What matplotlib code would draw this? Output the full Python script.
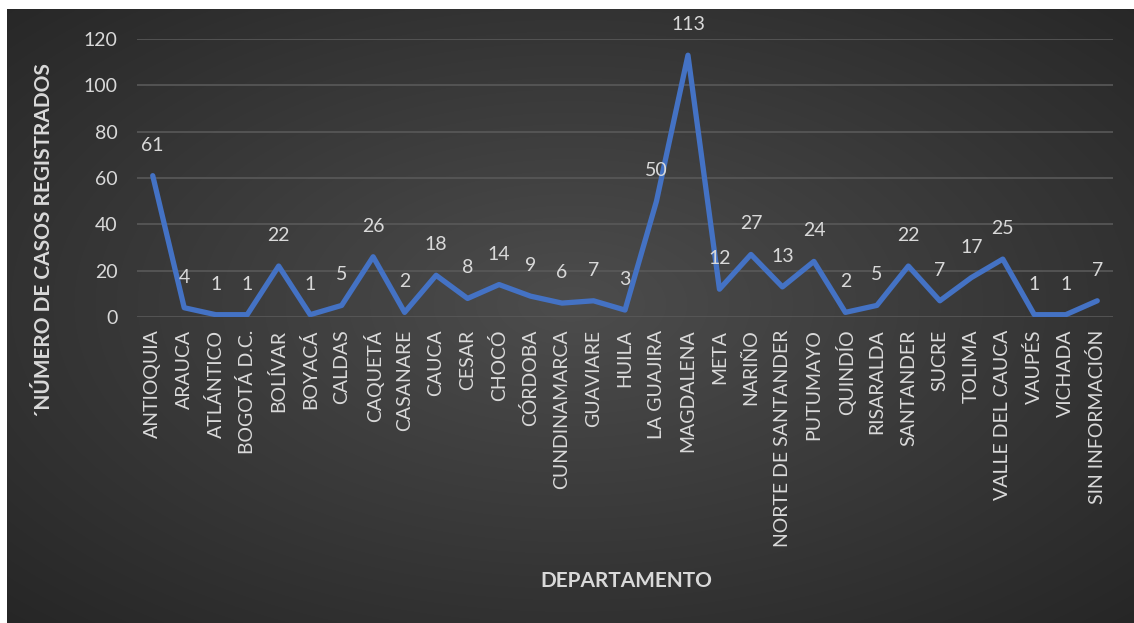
import numpy as np
import matplotlib
matplotlib.use("Agg")
import matplotlib.pyplot as plt

departamentos = [
    "ANTIOQUIA", "ARAUCA", "ATLÁNTICO", "BOGOTÁ D.C.", "BOLÍVAR", "BOYACÁ",
    "CALDAS", "CAQUETÁ", "CASANARE", "CAUCA", "CESAR", "CHOCÓ", "CÓRDOBA",
    "CUNDINAMARCA", "GUAVIARE", "HUILA", "LA GUAJIRA", "MAGDALENA", "META",
    "NARIÑO", "NORTE DE SANTANDER", "PUTUMAYO", "QUINDÍO", "RISARALDA",
    "SANTANDER", "SUCRE", "TOLIMA", "VALLE DEL CAUCA", "VAUPÉS", "VICHADA",
    "SIN INFORMACIÓN",
]
casos = [61, 4, 1, 1, 22, 1, 5, 26, 2, 18, 8, 14, 9, 6, 7, 3, 50, 113, 12,
         27, 13, 24, 2, 5, 22, 7, 17, 25, 1, 1, 7]
y_ticks = [0, 20, 40, 60, 80, 100, 120]

plt.rcParams["font.family"] = ["Lato", "DejaVu Sans"]
W, H = 1134, 623
fig = plt.figure(figsize=(W / 100, H / 100), dpi=100)
fig.patch.set_facecolor("white")

# dark panel with a soft radial gradient
x0, y0 = 7, 9
bg = fig.add_axes([x0 / W, 0, 1 - x0 / W, 1 - y0 / H])
bg.set_axis_off()
yy, xx = np.mgrid[0:H - y0, 0:W - x0]
cx, cy = 0.5 * (W - x0), 0.48 * (H - y0)
r = np.sqrt(((xx - cx) / (W * 0.62)) ** 2 + ((yy - cy) / (H * 0.62)) ** 2)
r = np.clip(r / r.max(), 0, 1)
shade = 0.30 - 0.15 * r
img = np.dstack([shade, shade, shade])
bg.imshow(img, aspect="auto", extent=[0, 1, 0, 1], interpolation="bilinear")
bg.set_xlim(0, 1)
bg.set_ylim(0, 1)

ax = fig.add_axes([137 / W, 1 - 317 / H, (1113 - 137) / W, (317 - 39) / H])
ax.patch.set_alpha(0)
x = np.arange(len(casos))
ax.plot(x, casos, color="#4472C4", lw=3.8, solid_joinstyle="round",
        solid_capstyle="round", zorder=3)

for xi, v in zip(x, casos):
    ax.annotate(str(v), (xi, v), xytext=(0, 22), textcoords="offset points",
                ha="center", va="center", color="#d9d9d9", fontsize=14)

ax.set_xlim(-0.5, len(casos) - 0.5)
ax.set_ylim(0, 120)
ax.set_yticks(y_ticks)
ax.grid(axis="y", color="#595959", lw=1.2)
ax.set_axisbelow(True)
for s in ax.spines.values():
    s.set_visible(False)
ax.tick_params(length=0, colors="#d9d9d9", labelsize=14)
ax.tick_params(axis="y", pad=14)
ax.tick_params(axis="x", pad=9)
ax.set_xticks(x)
ax.set_xticklabels(departamentos, rotation=90, va="top")

fig.text(44 / W, 1 - 241 / H, "´NÚMERO DE CASOS REGISTRADOS", rotation=90,
         ha="center", va="center", color="#d9d9d9", fontsize=15,
         fontweight="bold")
fig.text(626 / W, 1 - 581 / H, "DEPARTAMENTO", ha="center", va="center",
         color="#d9d9d9", fontsize=15, fontweight="bold")

fig.savefig("out.png", dpi=100)
